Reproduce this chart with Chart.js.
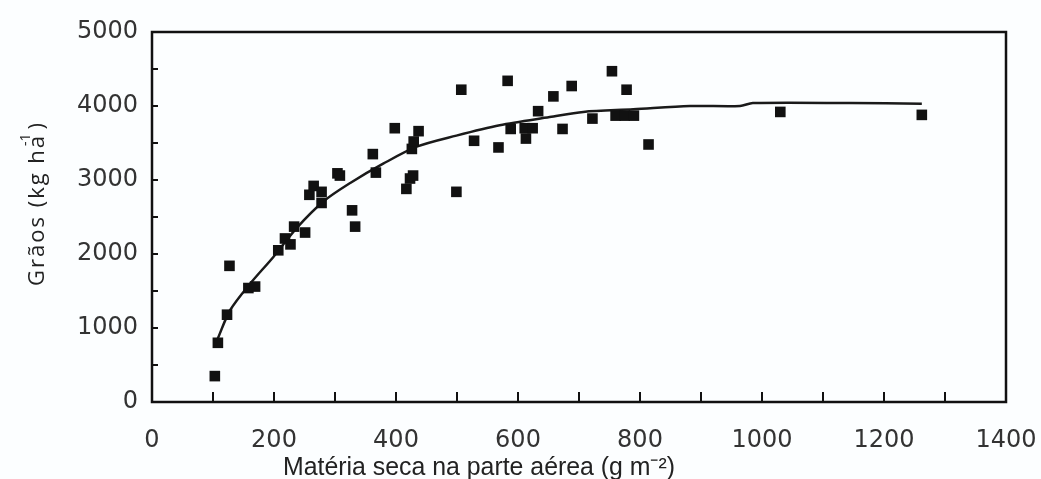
<!DOCTYPE html>
<html>
<head>
<meta charset="utf-8">
<script src="https://cdn.jsdelivr.net/npm/chart.js@4.4.0/dist/chart.umd.min.js"></script>
<style>
  html, body { margin: 0; padding: 0; background: #fcfeff; }
  #wrap { width: 1041px; height: 479px; }
</style>
</head>
<body>
<div id="wrap"><canvas id="chart" width="1041" height="479"></canvas></div>
<script>
// observed points: dry matter (g m-2) vs grain (kg ha-1)
const obsX = [103, 108, 123, 127, 158, 169, 207, 218, 227, 233, 251, 258, 265, 278, 278,
    304, 308, 328, 333, 362, 367, 398, 417, 423, 428, 426, 429, 437, 499, 507,
    528, 568, 583, 588, 611, 613, 624, 633, 658, 673, 688, 722, 754, 760, 775,
    778, 790, 814, 1030, 1262];
const obsY = [350, 800, 1180, 1840, 1540, 1560, 2050, 2210, 2130, 2370, 2290, 2800, 2920, 2840, 2690,
    3090, 3060, 2590, 2370, 3350, 3100, 3700, 2880, 3020, 3060, 3420, 3520, 3660, 2840, 4220,
    3530, 3440, 4340, 3690, 3700, 3560, 3700, 3930, 4130, 3690, 4270, 3830, 4470, 3870, 3870,
    4220, 3870, 3480, 3920, 3880];

// fitted curve
const fitX = [108, 128, 161, 199, 237, 281, 325, 379, 434, 499, 570, 652, 707, 789, 882, 964, 985, 1144, 1262];
const fitY = [860, 1240, 1600, 1960, 2350, 2710, 2960, 3220, 3450, 3600, 3740, 3850, 3920, 3955, 4000, 4000, 4040, 4040, 4030];

const xTicks = [0, 200, 400, 600, 800, 1000, 1200, 1400];
const yTicks = [0, 1000, 2000, 3000, 4000, 5000];

const xTitle = 'Matéria seca na parte aérea (g m⁻²)';
const yTitle = ['Grãos (kg ha', '-1', ')'];

const toPoints = (xs, ys) => xs.map((x, i) => ({ x: x, y: ys[i] }));

// box around the plot, inward tick marks and the two axis titles
const frame = {
    id: 'frame',
    afterDraw(chart) {
        const { ctx, chartArea: a, scales } = chart;
        ctx.save();
        ctx.strokeStyle = '#111';
        ctx.lineWidth = 2.5;
        ctx.strokeRect(a.left, a.top, a.right - a.left, a.bottom - a.top);
        ctx.lineWidth = 2;
        ctx.beginPath();
        for (let v = 0; v <= 1400; v += 100) {
            const px = scales.x.getPixelForValue(v);
            ctx.moveTo(px, a.bottom);
            ctx.lineTo(px, a.bottom - 10);
        }
        for (let v = 0; v <= 5000; v += 500) {
            const py = scales.y.getPixelForValue(v);
            ctx.moveTo(a.left, py);
            ctx.lineTo(a.left + 6, py);
        }
        ctx.stroke();

        // x title
        ctx.fillStyle = '#222';
        ctx.font = '25px "Liberation Sans Narrow", "Liberation Sans"';
        ctx.textBaseline = 'alphabetic';
        ctx.textAlign = 'left';
        const w = ctx.measureText(xTitle).width;
        ctx.save();
        ctx.translate(283, 475);
        ctx.scale(392 / w, 1);
        ctx.fillText(xTitle, 0, 0);
        ctx.restore();

        // y title, rotated, letter spaced
        ctx.textBaseline = 'middle';
        ctx.save();
        ctx.translate(38, 286);
        ctx.rotate(-Math.PI / 2);
        ctx.font = '22px "Open Sans"';
        ctx.letterSpacing = '2px';
        ctx.fillText(yTitle[0], 0, 0);
        let off = ctx.measureText(yTitle[0]).width;
        ctx.font = '14px "Open Sans"';
        ctx.letterSpacing = '0px';
        ctx.fillText(yTitle[1], off - 12, -12);
        off += ctx.measureText(yTitle[1]).width - 8;
        ctx.font = '22px "Open Sans"';
        ctx.fillText(yTitle[2], off, 0);
        ctx.restore();
        ctx.restore();
    }
};

new Chart(document.getElementById('chart'), {
    data: {
        datasets: [{
            type: 'scatter',
            data: toPoints(obsX, obsY),
            pointStyle: 'rect',
            pointRadius: 7.5,
            backgroundColor: '#111',
            borderColor: '#111',
            borderWidth: 0
        }, {
            type: 'line',
            data: toPoints(fitX, fitY),
            borderColor: '#1a1a1a',
            borderWidth: 2.5,
            pointRadius: 0,
            tension: 0.3,
            fill: false
        }]
    },
    options: {
        responsive: false,
        animation: false,
        layout: { padding: { left: 0, top: 32, right: 35, bottom: 0 } },
        plugins: { legend: { display: false }, tooltip: { enabled: false } },
        scales: {
            x: {
                type: 'linear',
                min: 0, max: 1400,
                afterBuildTicks: s => { s.ticks = xTicks.map(v => ({ value: v })); },
                afterFit: s => { s.height = 77; s.paddingLeft = 0; s.paddingRight = 0; },
                grid: { display: false, drawTicks: false },
                border: { display: false },
                ticks: {
                    color: '#333',
                    font: { family: 'DejaVu Sans', size: 24 },
                    padding: 24,
                    maxRotation: 0,
                    callback: v => String(v)
                }
            },
            y: {
                type: 'linear',
                min: 0, max: 5000,
                afterBuildTicks: s => { s.ticks = yTicks.map(v => ({ value: v })); },
                afterFit: s => { s.width = 152; },
                grid: { display: false, drawTicks: false },
                border: { display: false },
                ticks: {
                    color: '#333',
                    font: { family: 'DejaVu Sans', size: 24 },
                    padding: 14,
                    callback: v => String(v)
                }
            }
        }
    },
    plugins: [frame]
});
</script>
</body>
</html>
